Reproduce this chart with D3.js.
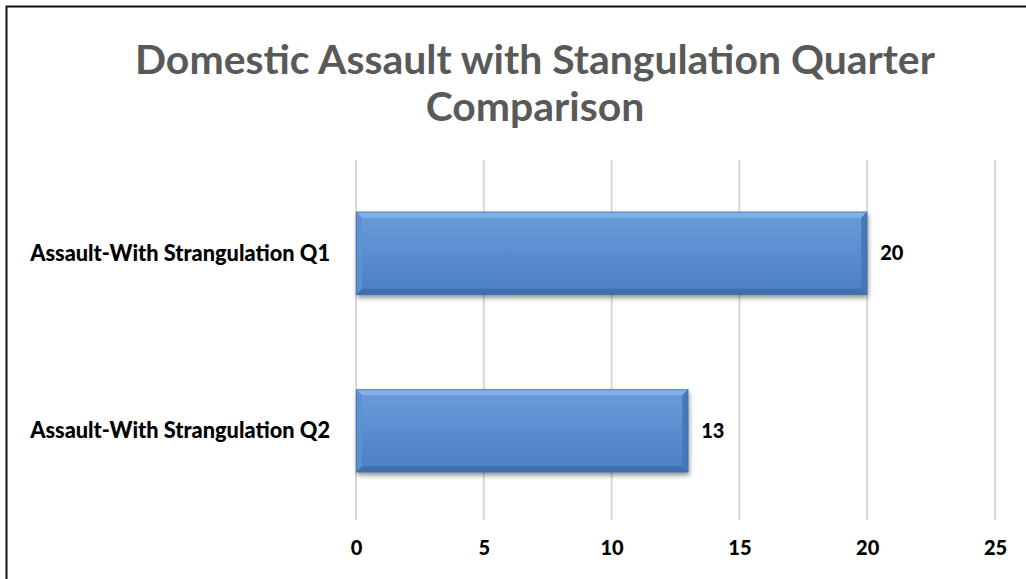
<!DOCTYPE html>
<html>
<head>
<meta charset="utf-8">
<script src="https://cdn.jsdelivr.net/npm/d3@7"></script>
<style>
  html, body { margin: 0; padding: 0; background: #fff; }
  svg { display: block; }
</style>
</head>
<body>
<svg id="chart" width="1026" height="579"></svg>
<script>
// Chart data
const titleLines = ["Domestic Assault with Stangulation Quarter", "Comparison"];
const categories = ["Assault-With Strangulation Q1", "Assault-With Strangulation Q2"];
const values = [20, 13];
const xTicks = [0, 5, 10, 15, 20, 25];

const svg = d3.select("#chart");
const W = 1026, H = 579;
const fontFamily = "Lato, 'Open Sans', 'Liberation Sans', sans-serif";

// Frame
svg.append("rect").attr("width", W).attr("height", H).attr("fill", "#fff");
svg.append("path")
  .attr("d", `M6.5,${H} L6.5,6.5 L${W},6.5`)
  .attr("fill", "none").attr("stroke", "#111").attr("stroke-width", 2);

// Plot area
const plot = { left: 356, right: 995, top: 160, bottom: 520 };

const x = d3.scaleLinear().domain([0, 25]).range([plot.left, plot.right]);
const y = d3.scaleBand().domain(categories).range([plot.top, plot.bottom])
  .paddingInner(0.532).paddingOuter(0.28).align(0.52);

// Defs: bar gradient and drop shadow
const defs = svg.append("defs");
const grad = defs.append("linearGradient").attr("id", "barFill").attr("x1", 0).attr("y1", 0).attr("x2", 0).attr("y2", 1);
[[0, "#6c9cd9"], [0.5, "#5a8dd0"], [1, "#4b7fc3"]].forEach(([o, c]) =>
  grad.append("stop").attr("offset", o).attr("stop-color", c));
const shadow = defs.append("filter").attr("id", "shadow").attr("x", "-5%").attr("y", "-20%").attr("width", "115%").attr("height", "150%");
shadow.append("feGaussianBlur").attr("in", "SourceAlpha").attr("stdDeviation", 2.5);
shadow.append("feOffset").attr("dx", 1).attr("dy", 3).attr("result", "ob");
shadow.append("feComponentTransfer").append("feFuncA").attr("type", "linear").attr("slope", 0.45);
const merge = shadow.append("feMerge");
merge.append("feMergeNode");
merge.append("feMergeNode").attr("in", "SourceGraphic");

// Vertical gridlines
svg.append("g").selectAll("line").data(xTicks).join("line")
  .attr("x1", d => x(d)).attr("x2", d => x(d))
  .attr("y1", plot.top).attr("y2", plot.bottom)
  .attr("stroke", "#d9d9d9").attr("stroke-width", 2);

// Bars with bevelled edges
const bev = 6;
const bars = svg.append("g").selectAll("g").data(categories).join("g");
bars.each(function(cat, i) {
  const g = d3.select(this);
  const x0 = x(0), x1 = x(values[i]);
  const y0 = y(cat), y1 = y(cat) + y.bandwidth();
  g.append("rect").attr("x", x0).attr("y", y0).attr("width", x1 - x0).attr("height", y1 - y0)
    .attr("fill", "url(#barFill)").attr("filter", "url(#shadow)");
  // top bevel
  g.append("path").attr("d", `M${x0},${y0} L${x1},${y0} L${x1 - bev},${y0 + bev} L${x0 + bev},${y0 + bev} Z`)
    .attr("fill", "#8ab5ea").attr("opacity", 0.8);
  // left bevel
  g.append("path").attr("d", `M${x0},${y0} L${x0 + bev},${y0 + bev} L${x0 + bev},${y1 - bev} L${x0},${y1} Z`)
    .attr("fill", "#5e90d2").attr("opacity", 0.9);
  // bottom bevel
  g.append("path").attr("d", `M${x0},${y1} L${x0 + bev},${y1 - bev} L${x1 - bev},${y1 - bev} L${x1},${y1} Z`)
    .attr("fill", "#3f6ea9").attr("opacity", 0.9);
  // right bevel
  g.append("path").attr("d", `M${x1},${y0} L${x1},${y1} L${x1 - bev},${y1 - bev} L${x1 - bev},${y0 + bev} Z`)
    .attr("fill", "#4677b8").attr("opacity", 0.95);
  // outline
  g.append("rect").attr("x", x0 + 0.5).attr("y", y0 + 0.5).attr("width", x1 - x0 - 1).attr("height", y1 - y0 - 1)
    .attr("fill", "none").attr("stroke", "#3e6aa3").attr("stroke-width", 1).attr("opacity", 0.6);
});

// Fit a text element to a target width by adjusting font size
function fitWidth(sel, target) {
  const node = sel.node();
  const fs = parseFloat(sel.attr("font-size"));
  const w = node.getComputedTextLength();
  if (w > 0) sel.attr("font-size", (fs * target / w).toFixed(2));
}

// Value labels
bars.append("text")
  .attr("x", (d, i) => x(values[i]) + 13)
  .attr("y", d => y(d) + y.bandwidth() / 2)
  .attr("dy", "0.35em")
  .attr("font-family", fontFamily).attr("font-weight", "900").attr("font-size", 20)
  .attr("fill", "#000")
  .text((d, i) => values[i]);

// Category labels
svg.append("g").selectAll("text").data(categories).join("text")
  .attr("x", 330)
  .attr("y", d => y(d) + y.bandwidth() / 2)
  .attr("dy", "0.35em")
  .attr("text-anchor", "end")
  .attr("font-family", fontFamily).attr("font-weight", "900").attr("font-size", 17)
  .attr("fill", "#000")
  .text(d => d)
  .each(function() { fitWidth(d3.select(this), 300); });

// X axis tick labels
const xAxis = d3.axisBottom(x).tickValues(xTicks).tickSize(0).tickPadding(0);
const ax = svg.append("g").attr("transform", `translate(0,${plot.bottom})`).call(xAxis);
ax.select(".domain").remove();
ax.selectAll("text")
  .attr("y", 28).attr("dy", "0.35em")
  .attr("font-family", fontFamily).attr("font-weight", "900").attr("font-size", 20)
  .attr("fill", "#000");

// Title
const titleG = svg.append("g");
titleLines.forEach((t, i) => {
  const el = titleG.append("text")
    .attr("x", 535).attr("y", 74 + i * 47)
    .attr("text-anchor", "middle")
    .attr("font-family", fontFamily).attr("font-weight", "bold").attr("font-size", 34)
    .attr("fill", "#595959")
    .text(t);
  if (i === 0) fitWidth(el, 800);
});
// second line uses same size as first
titleG.selectAll("text").filter((d, i) => i === 1)
  .attr("font-size", titleG.select("text").attr("font-size"));
</script>
</body>
</html>
